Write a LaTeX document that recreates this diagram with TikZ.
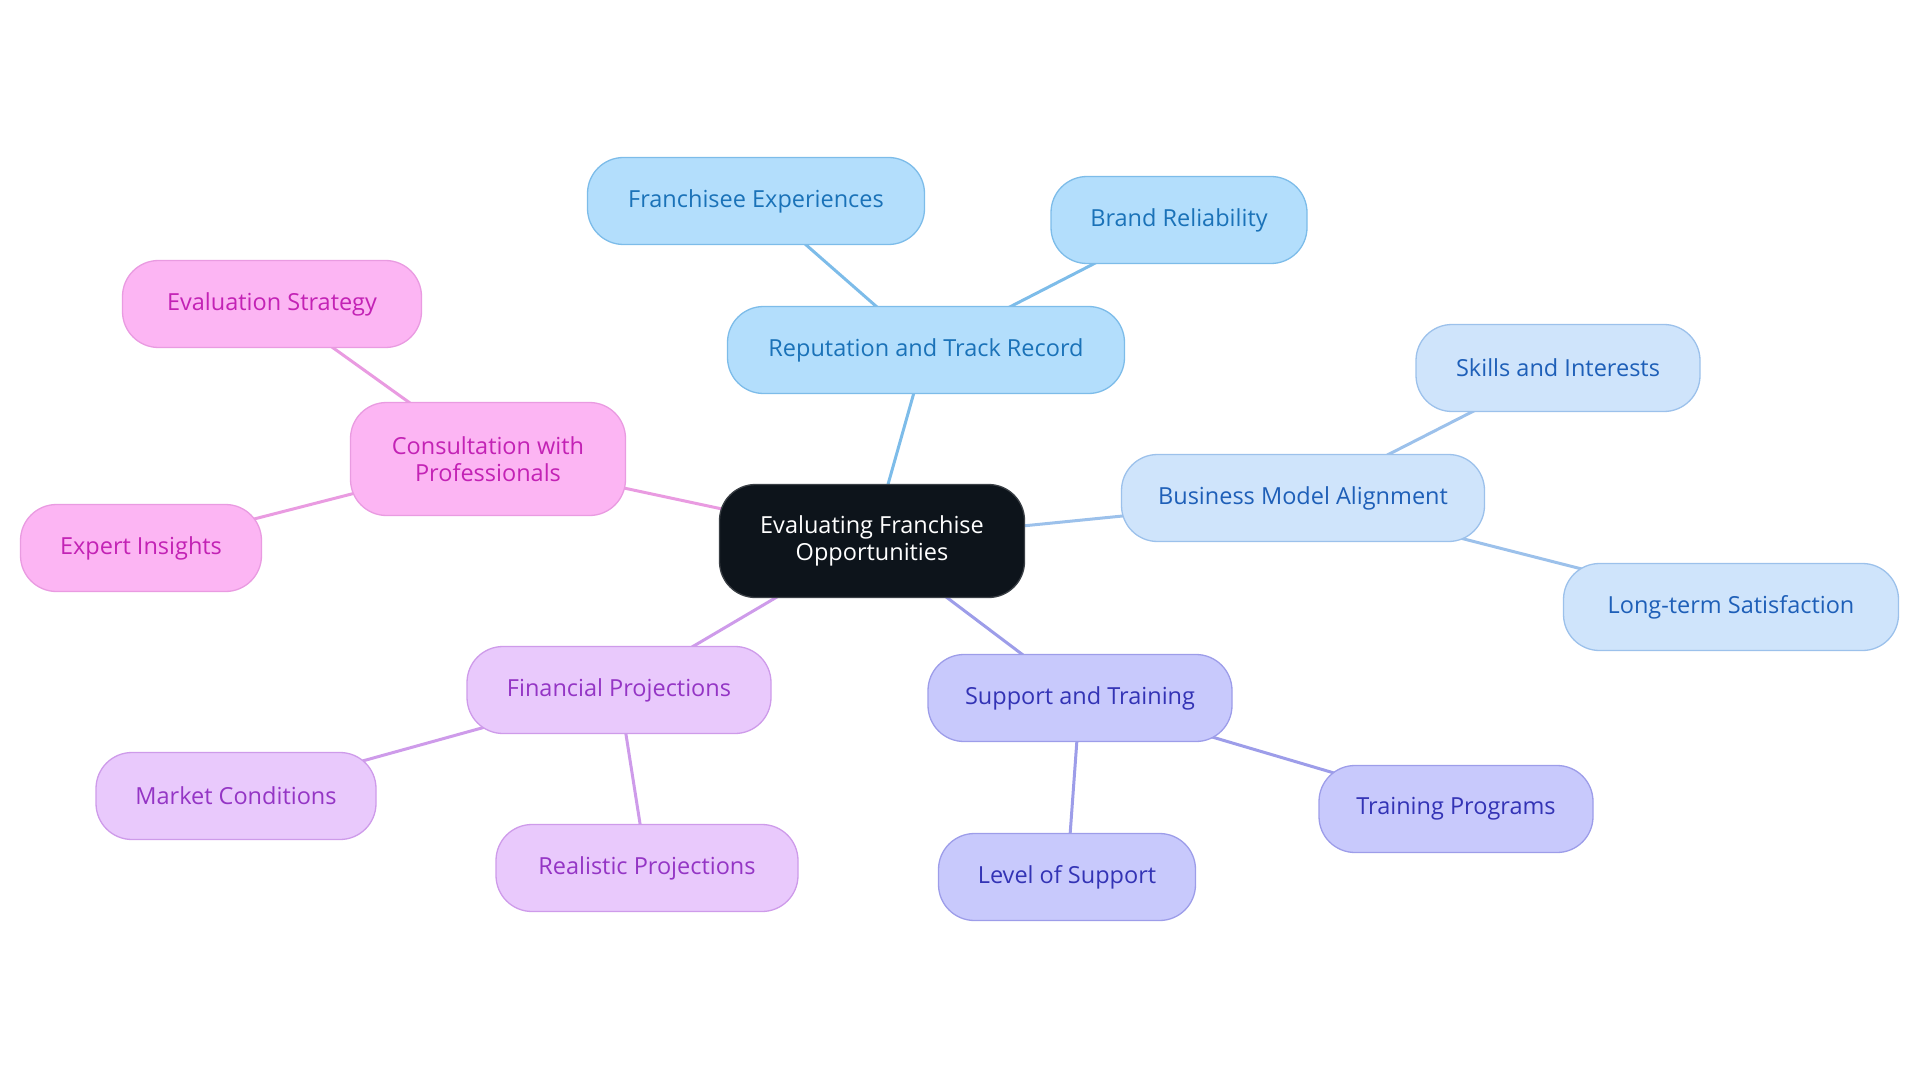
\documentclass[tikz,border=0pt]{standalone}
\usepackage{fontspec}
\setmainfont{Open Sans}
\usetikzlibrary{backgrounds}
\definecolor{cdark}{HTML}{0D141B}
\definecolor{cdarkb}{HTML}{3A3F45}
\definecolor{aFill}{HTML}{B3DEFC}
\definecolor{aLine}{HTML}{7DBCE9}
\definecolor{aText}{HTML}{1A72B8}
\definecolor{bFill}{HTML}{CFE4FB}
\definecolor{bLine}{HTML}{9CC1EB}
\definecolor{bText}{HTML}{1E5FB8}
\definecolor{cFill}{HTML}{C8C9FC}
\definecolor{cLine}{HTML}{9D9DE9}
\definecolor{cText}{HTML}{3333B5}
\definecolor{dFill}{HTML}{E9C9FC}
\definecolor{dLine}{HTML}{CE9BEA}
\definecolor{dText}{HTML}{9435C5}
\definecolor{eFill}{HTML}{FCB5F3}
\definecolor{eLine}{HTML}{E99BE1}
\definecolor{eText}{HTML}{C322B5}
\tikzset{
  box/.style={rounded corners=36pt, minimum height=87pt, inner sep=0pt, align=center,
    line width=1.3pt, font=\fontsize{23.5}{27}\selectfont},
  grpA/.style={box, fill=aFill, draw=aLine, text=aText},
  grpB/.style={box, fill=bFill, draw=bLine, text=bText},
  grpC/.style={box, fill=cFill, draw=cLine, text=cText},
  grpD/.style={box, fill=dFill, draw=dLine, text=dText},
  grpE/.style={box, fill=eFill, draw=eLine, text=eText},
  link/.style={line width=3pt},
}
\begin{document}
\begin{tikzpicture}[x=1pt,y=-1pt]
\useasboundingbox (0,0) rectangle (1920,1083);
\node[box, fill=cdark, draw=cdarkb, text=white, minimum width=305pt, minimum height=113pt] (root) at (872,541) {Evaluating Franchise\\Opportunities};
\node[grpA, minimum width=397pt] (rep) at (926,350) {Reputation and Track Record};
\node[grpA, minimum width=337pt] (fe) at (756,201) {Franchisee Experiences};
\node[grpA, minimum width=256pt] (br) at (1179,220) {Brand Reliability};
\node[grpB, minimum width=363pt] (bma) at (1303,498) {Business Model Alignment};
\node[grpB, minimum width=284pt] (si) at (1558,368) {Skills and Interests};
\node[grpB, minimum width=335pt] (lts) at (1731,607) {Long-term Satisfaction};
\node[grpC, minimum width=304pt] (st) at (1080,698) {Support and Training};
\node[grpC, minimum width=274pt] (tp) at (1456,809) {Training Programs};
\node[grpC, minimum width=257pt] (ls) at (1067,877) {Level of Support};
\node[grpD, minimum width=304pt] (fp) at (619,690) {Financial Projections};
\node[grpD, minimum width=280pt] (mc) at (236,796) {Market Conditions};
\node[grpD, minimum width=302pt] (rp) at (647,868) {Realistic Projections};
\node[grpE, minimum width=275pt, minimum height=113pt] (cp) at (488,459) {Consultation with\\Professionals};
\node[grpE, minimum width=299pt] (es) at (272,304) {Evaluation Strategy};
\node[grpE, minimum width=241pt] (ei) at (141,548) {Expert Insights};
\begin{scope}[on background layer]
\draw[link, aLine] (root.center) -- (rep.center);
\draw[link, aLine] (rep.center) -- (fe.center);
\draw[link, aLine] (rep.center) -- (br.center);
\draw[link, bLine] (root.center) -- (bma.center);
\draw[link, bLine] (bma.center) -- (si.center);
\draw[link, bLine] (bma.center) -- (lts.center);
\draw[link, cLine] (root.center) -- (st.center);
\draw[link, cLine] (st.center) -- (tp.center);
\draw[link, cLine] (st.center) -- (ls.center);
\draw[link, dLine] (root.center) -- (fp.center);
\draw[link, dLine] (fp.center) -- (mc.center);
\draw[link, dLine] (fp.center) -- (rp.center);
\draw[link, eLine] (root.center) -- (cp.center);
\draw[link, eLine] (cp.center) -- (es.center);
\draw[link, eLine] (cp.center) -- (ei.center);
\end{scope}
\end{tikzpicture}
\end{document}
